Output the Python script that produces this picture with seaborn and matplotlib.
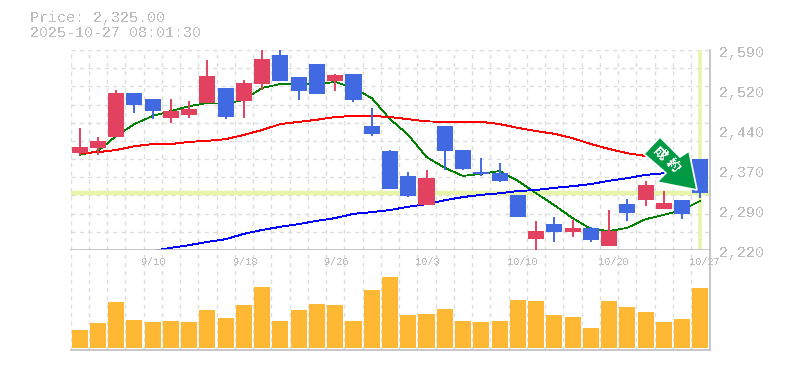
#!/usr/bin/env python3
"""Candlestick chart with moving averages and volume"""
import numpy as np
import pandas as pd
import matplotlib
matplotlib.use('Agg')
import matplotlib.pyplot as plt
import seaborn as sns
from matplotlib.patches import Polygon
from matplotlib.transforms import IdentityTransform

# prices
opens = [2399, 2409, 2429, 2510, 2499, 2464, 2470, 2492, 2520, 2496, 2527, 2581, 2540, 2564, 2533, 2546, 2449, 2403,
         2357, 2303, 2449, 2405, 2364, 2362, 2322, 2240, 2268, 2253, 2261, 2227, 2305, 2312, 2296, 2312, 2388]
closes = [2411, 2422, 2510, 2488, 2477, 2477, 2481, 2542, 2466, 2529, 2573, 2533, 2514, 2509, 2544, 2498, 2435, 2333,
          2320, 2353, 2403, 2370, 2361, 2348, 2281, 2255, 2253, 2261, 2238, 2255, 2288, 2340, 2307, 2287, 2325]
highs = [2446, 2429, 2516, 2510, 2499, 2499, 2496, 2572, 2520, 2535, 2590, 2590, 2540, 2564, 2546, 2546, 2483, 2405,
         2364, 2368, 2449, 2405, 2390, 2381, 2322, 2274, 2281, 2276, 2263, 2294, 2314, 2348, 2329, 2312, 2388]
lows = [2396, 2396, 2429, 2473, 2462, 2455, 2464, 2492, 2462, 2464, 2516, 2533, 2498, 2509, 2514, 2494, 2431, 2333,
        2318, 2303, 2368, 2368, 2357, 2346, 2281, 2220, 2235, 2244, 2235, 2227, 2274, 2301, 2296, 2277, 2316]
ma_short = [2396, 2403, 2431, 2453, 2468, 2477, 2486, 2492, 2490, 2498, 2520, 2527, 2527, 2527, 2531, 2520, 2501, 2462,
            2433, 2392, 2372, 2357, 2361, 2366, 2348, 2325, 2303, 2279, 2259, 2255, 2261, 2277, 2285, 2294, 2311]
ma_mid = [2399, 2401, 2405, 2412, 2416, 2416, 2420, 2422, 2425, 2433, 2442, 2453, 2457, 2461, 2466, 2468, 2468, 2466,
          2462, 2458, 2457, 2457, 2457, 2453, 2446, 2440, 2435, 2427, 2416, 2407, 2399, 2394, 2388, np.nan, np.nan]
ma_long = [np.nan, np.nan, np.nan, np.nan, 2218, 2224, 2229, 2235, 2240, 2250, 2257, 2263, 2268, 2274, 2279, 2287, 2290, 2294,
           2300, 2305, 2312, 2318, 2322, 2325, 2329, 2331, 2335, 2338, 2342, 2348, 2353, 2359, 2362, np.nan, np.nan]
volumes = [18, 25, 46, 28, 26, 27, 26, 38, 30, 43, 61, 27, 38, 44, 43, 27, 58, 71,
           33, 34, 39, 27, 26, 27, 48, 47, 33, 31, 20, 47, 41, 36, 26, 29, 60]
last_price = 2325

price_ticks = [2220, 2294, 2368, 2442, 2516, 2590]
price_labels = ['2,220', '2,290', '2,370', '2,440', '2,520', '2,590']
date_pos = [4, 9, 14, 19, 24, 29, 34]
date_labels = ['9/10', '9/18', '9/26', '10/3', '10/10', '10/20', '10/27']

UP = '#E2425F'
DOWN = '#4169E1'
GRAY = '#BDBDBD'
GRID = '#DDDDDD'
BAND = '#E6F5AA'
W, H = 785, 370

sns.set_theme(style='white')
plt.rcParams['font.family'] = ['Liberation Mono', 'Noto Sans CJK JP', 'DejaVu Sans']
plt.rcParams['text.antialiased'] = False

df = pd.DataFrame({'i': range(len(opens)), 'open': opens, 'close': closes, 'high': highs, 'low': lows,
                   'ma_short': ma_short, 'ma_mid': ma_mid, 'ma_long': ma_long, 'volume': volumes})
df['up'] = df['close'] >= df['open']

fig = plt.figure(figsize=(W / 100, H / 100), dpi=100)
ax = fig.add_axes([70.5 / W, 1 - 250 / H, 639 / W, 200 / H])
vol = fig.add_axes([70.5 / W, 1 - 350 / H, 639 / W, 100 / H])

# price panel
ax.axhline(last_price, color=BAND, linewidth=3.2, zorder=1)
ax.axvline(34, color=BAND, linewidth=2.6, zorder=1)

sns.lineplot(data=df, x='i', y='ma_short', ax=ax, color='#008000', linewidth=0.55, zorder=2, legend=False,
             antialiased=False)
sns.lineplot(data=df, x='i', y='ma_mid', ax=ax, color='#FF0000', linewidth=0.65, zorder=2, legend=False,
             antialiased=False)
sns.lineplot(data=df, x='i', y='ma_long', ax=ax, color='#0000FF', linewidth=0.65, zorder=2, legend=False,
             antialiased=False)

colors = df['up'].map({True: UP, False: DOWN})
ax.vlines(df['i'], df['low'], df['high'], colors=colors, linewidth=1.4, zorder=3)
ax.bar(df['i'], (df['close'] - df['open']).abs(), bottom=df[['open', 'close']].min(axis=1),
       width=0.88, color=colors, linewidth=0, zorder=3)
ax.set_ylim(2220, 2590)
ax.set_yticks(np.linspace(2220, 2590, 12))
ax.grid(axis='y', color=GRID, linestyle=(0, (3, 3)), linewidth=1)

for val, lab in zip(price_ticks, price_labels):
    ax.annotate(lab, xy=(1, val), xycoords=('axes fraction', 'data'), xytext=(10, -3), textcoords='offset pixels',
                color=GRAY, fontsize=10.8, va='center', ha='left', annotation_clip=False)

# volume panel
sns.barplot(data=df, x='i', y='volume', ax=vol, color='#FFB833', width=0.88, saturation=1, linewidth=0, zorder=2)
vol.set_ylim(-2, 98)

for pos, lab in zip(date_pos, date_labels):
    vol.annotate(lab, xy=(pos, 1), xycoords=('data', 'axes fraction'), xytext=(-11, -12), textcoords='offset pixels',
                 color=GRAY, fontsize=7.4, va='center', ha='left', annotation_clip=False, zorder=5)

for a in (ax, vol):
    a.set_xlim(-0.5, 34.5)
    a.set_xticks(np.arange(-0.5, 35, 1))
    a.set_xlabel('')
    a.set_ylabel('')
    a.grid(axis='x', color=GRID, linestyle=(0, (3, 3)), linewidth=1)
    a.set_axisbelow(True)
    sns.despine(ax=a, left=True, top=True, right=False)
    a.tick_params(length=0, labelbottom=False, labelleft=False, labelright=False)
    a.spines['right'].set_color(GRAY)
    a.spines['bottom'].set_color(GRAY)
    a.spines['right'].set_linewidth(1.2)
    a.spines['bottom'].set_linewidth(1.2)

# header
fig.text(30 / W, 1 - 18 / H, 'Price: 2,325.00', color=GRAY, fontsize=10.8, va='center', ha='left')
fig.text(30 / W, 1 - 33 / H, '2025-10-27 08:01:30', color=GRAY, fontsize=10.8, va='center', ha='left')

# arrow marker, pixel outline
outline = [(660, 137), (680, 157), (689, 151), (697, 190), (657, 182), (666, 173), (644, 154)]
arrow = Polygon([(x, H - y) for x, y in outline], closed=True, facecolor='#009944', edgecolor='white',
                linewidth=1.2, transform=IdentityTransform(), zorder=10, clip_on=False)
fig.add_artist(arrow)
for ch, x, y in [('成', 660, 154), ('約', 672, 166)]:
    fig.text(x / W, 1 - y / H, ch, color='white', fontsize=9.5, fontweight='bold', rotation=-45,
             rotation_mode='anchor', va='center', ha='center', zorder=11)

fig.savefig('out.png', dpi=100, facecolor='white')
